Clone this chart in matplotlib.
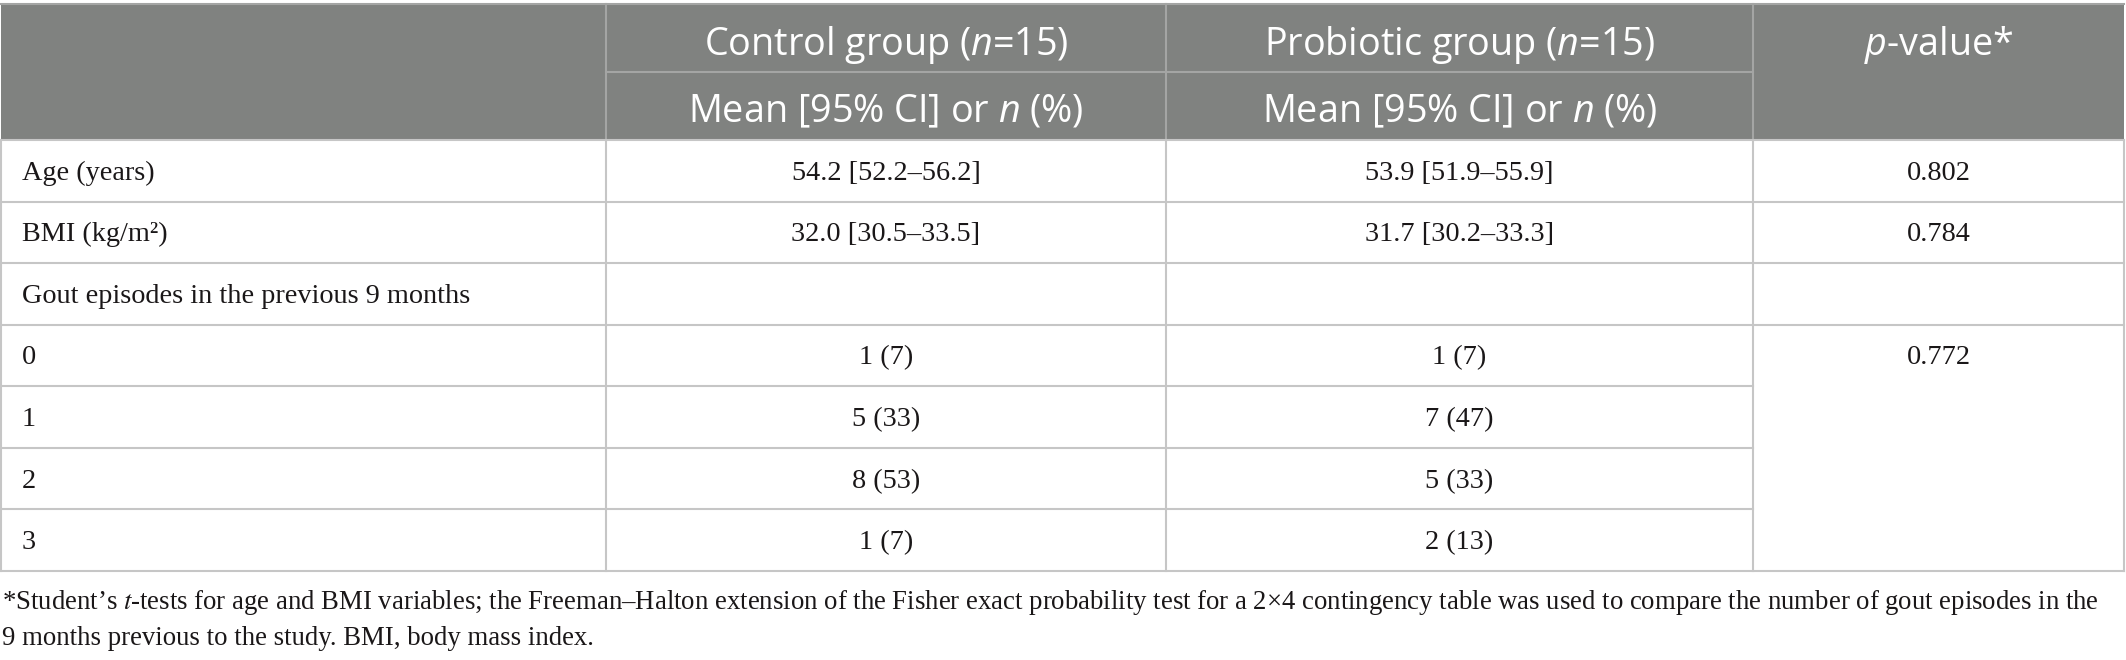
import matplotlib
matplotlib.use("Agg")
import matplotlib.pyplot as plt
from matplotlib.patches import Rectangle

# italic n / p in the sans header go through mathtext with Open Sans
plt.rcParams["mathtext.fontset"] = "custom"
plt.rcParams["mathtext.rm"] = "Open Sans"
plt.rcParams["mathtext.it"] = "Open Sans:italic"

# Table content
header_top = ["", "Control group ($n$=15)", "Probiotic group ($n$=15)", "$p$-value*"]
header_sub = ["", "Mean [95% CI] or $n$ (%)", "Mean [95% CI] or $n$ (%)", ""]
row_labels = ["Age (years)", "BMI (kg/m²)", "Gout episodes in the previous 9 months",
              "0", "1", "2", "3"]
control_values = ["54.2 [52.2–56.2]", "32.0 [30.5–33.5]", "",
                  "1 (7)", "5 (33)", "8 (53)", "1 (7)"]
probiotic_values = ["53.9 [51.9–55.9]", "31.7 [30.2–33.3]", "",
                    "1 (7)", "7 (47)", "5 (33)", "2 (13)"]
p_values = ["0.802", "0.784", "", "0.772", "", "", ""]
# rows that share one merged p-value cell
merged_p_rows = [3, 4, 5, 6]
footnote_lines = [
    "*Student’s $t$-tests for age and BMI variables; the Freeman–Halton extension of the "
    "Fisher exact probability test for a 2×4 contingency table was used to compare the "
    "number of gout episodes in the",
    "9 months previous to the study. BMI, body mass index.",
]

# Layout (pixels)
W, H = 2126, 660
col_edges = [1, 606, 1166, 1753, 2124]
head_top, head_mid, head_bot = 4, 72, 140
table_bot = 571
row_h = (table_bot - head_bot) / len(row_labels)

head_fill = "#808280"
head_line = "#a4a5a4"
grid_col = "#c6c6c6"
text_col = "#1a1718"
serif = "Liberation Serif"
sans = "Open Sans"

fig = plt.figure(figsize=(W / 100, H / 100), dpi=100)
ax = fig.add_axes([0, 0, 1, 1])
ax.set_xlim(0, W)
ax.set_ylim(H, 0)
ax.axis("off")

# header block
ax.add_patch(Rectangle((col_edges[0], head_top), col_edges[-1] - col_edges[0],
                       head_bot - head_top, facecolor=head_fill, edgecolor="none"))
ax.plot([col_edges[0], col_edges[-1]], [head_top, head_top], color=head_line, lw=1.5)
ax.plot([col_edges[1], col_edges[3]], [head_mid, head_mid], color=head_line, lw=1.5)
for x in col_edges[1:-1]:
    ax.plot([x, x], [head_top, head_bot], color=head_line, lw=1.5)

for j in range(1, 4):
    cx = (col_edges[j] + col_edges[j + 1]) / 2
    ax.text(cx, 55, header_top[j], ha="center", va="baseline", color="white",
            fontsize=27.2, family=sans, math_fontfamily="custom")
    if header_sub[j]:
        ax.text(cx, 122, header_sub[j], ha="center", va="baseline", color="white",
                fontsize=27.2, family=sans, math_fontfamily="custom")

# body grid
row_tops = [head_bot + i * row_h for i in range(len(row_labels) + 1)]
for i, y in enumerate(row_tops):
    if i in merged_p_rows[1:]:
        ax.plot([col_edges[0], col_edges[3]], [y, y], color=grid_col, lw=1.5)
    else:
        ax.plot([col_edges[0], col_edges[-1]], [y, y], color=grid_col, lw=1.5)
for x in col_edges:
    ax.plot([x, x], [head_bot, table_bot], color=grid_col, lw=1.5)

# body text
for i in range(len(row_labels)):
    base = row_tops[i] + row_h / 2 + 9
    ax.text(col_edges[0] + 21, base, row_labels[i], ha="left", va="baseline",
            color=text_col, fontsize=20.3, family=serif)
    for j, vals in [(1, control_values), (2, probiotic_values), (3, p_values)]:
        if vals[i]:
            cx = (col_edges[j] + col_edges[j + 1]) / 2
            ax.text(cx, base, vals[i], ha="center", va="baseline",
                    color=text_col, fontsize=20.3, family=serif)

# footnote, sized so the first line runs to the right edge
foot = [ax.text(2, y, s, ha="left", va="baseline", color=text_col, fontsize=20,
                family=serif, math_fontfamily="stix")
        for y, s in zip([609, 645], footnote_lines)]
r = fig.canvas.get_renderer()
w = foot[0].get_window_extent(r).width
for t in foot:
    t.set_fontsize(20 * 2100 / w)

fig.savefig("out.png", dpi=100)
